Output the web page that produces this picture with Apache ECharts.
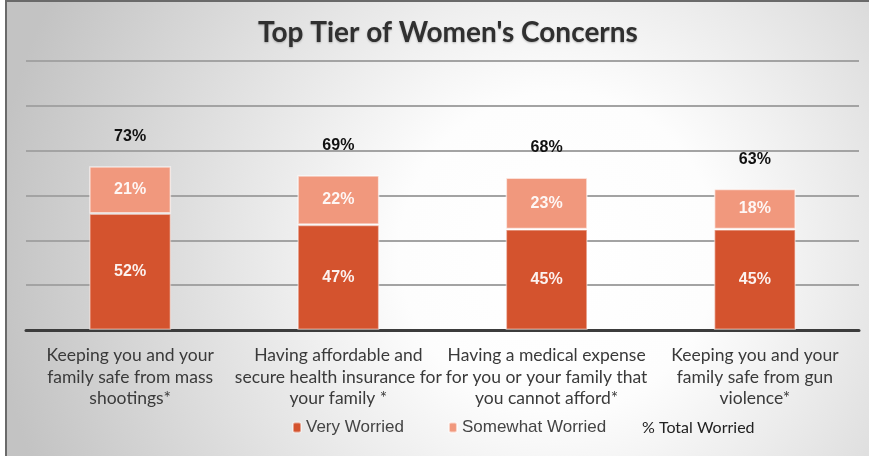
<!DOCTYPE html>
<html>
<head>
<meta charset="utf-8">
<script src="https://cdn.jsdelivr.net/npm/echarts@6/dist/echarts.min.js"></script>
<style>
  html, body { margin: 0; padding: 0; background: #fff; }
  #chart {
    position: absolute; left: 5px; top: 0;
    width: 862px; height: 454px;
    border-left: 2px solid #6a6a6a;
    border-top: 2px solid #6a6a6a;
  }
</style>
</head>
<body>
<div id="chart"></div>
<script>
// categories and values
const categories = [
  'Keeping you and your\nfamily safe from mass\nshootings*',
  'Having affordable and\nsecure health insurance for\nyour family *',
  'Having a medical expense\nfor you or your family that\nyou cannot afford*',
  'Keeping you and your\nfamily safe from gun\nviolence*'
];
const veryWorried = [52, 47, 45, 45];
const somewhatWorried = [21, 22, 23, 18];
const totalWorried = [73, 69, 68, 63];

let chart = echarts.init(document.getElementById('chart'));
let option = {
  backgroundColor: {
    type: 'radial', x: 0.64, y: 0.55, r: 1.25,
    colorStops: [
      { offset: 0, color: '#ffffff' },
      { offset: 0.28, color: '#fdfdfd' },
      { offset: 1, color: '#c3c3c3' }
    ]
  },
  title: {
    text: "Top Tier of Women's Concerns",
    left: 246,
    top: 12,
    textStyle: {
      fontFamily: 'Lato',
      fontWeight: 'bold',
      fontSize: 28,
      color: '#303030',
      textShadowColor: 'rgba(0,0,0,0.25)',
      textShadowBlur: 2,
      textShadowOffsetY: 1
    }
  },
  legend: [
    {
      left: 280,
      top: 412,
      itemWidth: 8,
      itemHeight: 10,
      itemGap: 44,
      textStyle: { fontFamily: 'Liberation Sans', fontSize: 17, color: '#444' },
      data: ['Very Worried', 'Somewhat Worried']
    },
    {
      left: 617,
      top: 413,
      itemWidth: 8,
      itemHeight: 10,
      icon: 'none',
      textStyle: { fontFamily: 'Lato', fontSize: 16, color: '#222' },
      data: ['% Total Worried']
    }
  ],
  grid: { left: 19, right: 10, top: 59, bottom: 126 },
  xAxis: {
    type: 'category',
    data: categories,
    axisTick: { show: false },
    axisLine: { lineStyle: { color: '#3c3c3c', width: 3 } },
    axisLabel: {
      interval: 0,
      margin: 15,
      fontFamily: 'Lato',
      fontSize: 17.5,
      lineHeight: 21.5,
      color: '#3a3a3a'
    }
  },
  yAxis: {
    type: 'value',
    min: 0, max: 120, interval: 20,
    axisLabel: { show: false },
    axisLine: { show: false },
    axisTick: { show: false },
    splitLine: { lineStyle: { color: '#a3a3a3', width: 2 } }
  },
  series: [
    {
      name: 'Very Worried',
      type: 'bar',
      stack: 'all',
      barWidth: 82,
      data: veryWorried,
      itemStyle: { color: '#d4532e', borderColor: 'rgba(255,255,255,0.45)', borderWidth: 1.5 },
      label: {
        show: true, position: 'inside', formatter: '{c}%',
        fontFamily: 'Liberation Sans', fontSize: 16, fontWeight: 'bold',
        color: 'rgba(255,255,255,0.92)'
      }
    },
    {
      name: 'Somewhat Worried',
      type: 'bar',
      stack: 'all',
      barWidth: 82,
      data: somewhatWorried,
      itemStyle: { color: '#f1987d', borderColor: 'rgba(255,255,255,0.6)', borderWidth: 1.5 },
      label: {
        show: true, position: 'inside', formatter: '{c}%',
        fontFamily: 'Liberation Sans', fontSize: 16, fontWeight: 'bold',
        color: 'rgba(255,255,255,0.92)'
      }
    },
    {
      name: '% Total Worried',
      type: 'line',
      data: totalWorried,
      symbol: 'circle',
      symbolSize: 1,
      itemStyle: { color: 'transparent' },
      lineStyle: { opacity: 0 },
      label: {
        show: true, position: 'top', distance: 21, formatter: '{c}%',
        fontFamily: 'Liberation Sans', fontSize: 16, fontWeight: 'bold',
        color: '#111'
      }
    }
  ]
};
chart.setOption(option);
</script>
</body>
</html>
